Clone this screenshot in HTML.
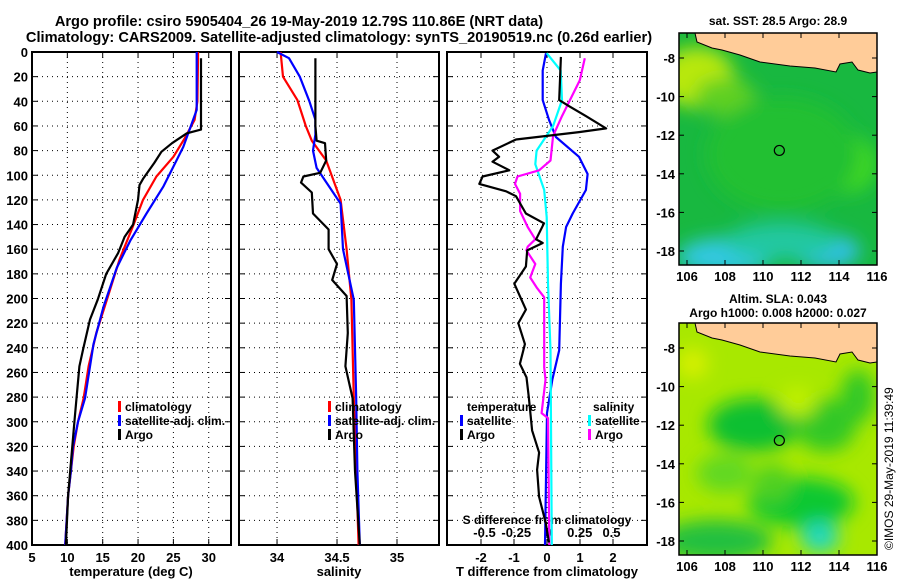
<!DOCTYPE html>
<html><head><meta charset="utf-8">
<style>
html,body{margin:0;padding:0;background:#fff;}
svg{display:block;font-family:"Liberation Sans",sans-serif;font-weight:bold;}
</style></head>
<body>
<svg id="chart" width="900" height="580" viewBox="0 0 900 580" xmlns="http://www.w3.org/2000/svg">
<text x="299" y="26" font-size="14.6" text-anchor="middle">Argo profile: csiro 5905404_26 19-May-2019 12.79S 110.86E (NRT data)</text>
<text x="339" y="42" font-size="14.6" text-anchor="middle">Climatology: CARS2009. Satellite-adjusted climatology: synTS_20190519.nc (0.26d earlier)</text>
<g id="plots"></g>
<g id="maps"></g>
<text transform="translate(893,550) rotate(-90)" font-size="12" font-weight="normal">©IMOS 29-May-2019 11:39:49</text>
</svg>
<script>
// ---- data ----
const depthTicks = [0,20,40,60,80,100,120,140,160,180,200,220,240,260,280,300,320,340,360,380,400];
const tempTicks = [5,10,15,20,25,30];
const salTicks = [34,34.5,35];
const tdiffTicks = [-2,-1,0,1,2];
const sdiffTicks = [-0.5,-0.25,0,0.25,0.5];
const sdiffTickLabels = ["-0.5","-0.25","0","0.25","0.5"];

const climTempDepth = [0,40,55,70,85,101,120,141,168,201,228,255,281,300,320,340,360,400];
const climTemp =      [28.5,28.4,28.0,26.6,25.0,22.6,20.7,19.3,17.4,15.6,14.1,13.0,12.3,11.5,10.9,10.5,10.1,9.7];
const satTempDepth = [0,47,77,93,109,131,153,175,207,237,281,300,320,340,360,400];
const satTemp =      [28.3,28.3,26.4,25.0,23.6,21.2,18.9,17.0,15.1,13.7,12.5,11.5,10.8,10.5,10.1,9.7];
const argoTempDepth = [5,60,63,66,74,81,90,103,108,120,140,150,163,180,201,217,242,255,281,300,340,360,400];
const argoTemp =      [28.9,28.9,28.9,26.9,24.8,23.3,22.3,20.7,20.2,20.0,19.3,18.1,17.2,15.5,14.3,13.2,12.2,11.7,11.3,11.0,10.4,10.1,9.8];

const climSalDepth = [0,20,39,60,72,88,120,160,201,281,340,400];
const climSal =      [34.03,34.05,34.17,34.24,34.29,34.41,34.53,34.58,34.62,34.64,34.66,34.68];
const satSalDepth = [0,5,20,40,55,67,80,94,123,160,201,281,340,400];
const satSal =      [34.0,34.1,34.19,34.27,34.32,34.32,34.3,34.33,34.53,34.55,34.64,34.66,34.67,34.69];
const argoSalDepth = [5,60,72,74,88,98,101,106,114,131,144,160,172,185,198,228,255,281,340,400];
const argoSal =      [34.32,34.32,34.33,34.4,34.41,34.36,34.22,34.2,34.29,34.3,34.43,34.43,34.5,34.46,34.58,34.59,34.57,34.63,34.65,34.69];

const satTdiffDepth = [1,15,39,55,69,85,99,112,131,142,158,188,242,266,293,400];
const satTdiff =      [-0.03,-0.13,-0.13,0.06,0.27,0.97,1.23,1.18,0.78,0.58,0.48,0.42,0.37,0.16,0,-0.06];
const argoTdiffDepth = [4,39,44,52,62,65,71,80,85,89,96,101,107,113,117,131,139,152,155,161,174,188,209,220,237,253,264,280,307,325,339,361,382,398];
const argoTdiff =      [0.42,0.37,0.67,1.18,1.79,0.97,-0.94,-1.65,-1.45,-1.65,-1.14,-1.95,-2.05,-1.24,-0.94,-0.64,-0.09,-0.33,-0.13,-0.6,-0.64,-0.99,-0.64,-0.87,-0.67,-0.82,-0.62,-0.55,-0.45,-0.24,-0.3,-0.24,-0.04,0.06];
const satSdiffDepth = [1,15,39,60,80,91,112,134,188,242,400];
const satSdiff =      [-0.01,0.1,0.11,0.04,-0.09,-0.1,-0.03,-0.01,0,0.02,0.03];
const argoSdiffDepth = [5,23,52,68,88,96,101,107,115,129,142,152,158,161,172,183,191,199,256,266,293,297,400];
const argoSdiff =      [0.29,0.25,0.11,0.04,0.02,-0.07,-0.24,-0.26,-0.22,-0.22,-0.16,-0.1,-0.16,-0.17,-0.1,-0.14,-0.09,-0.03,-0.03,-0.02,-0.05,0,0.01];

const NS="http://www.w3.org/2000/svg";
function mk(tag,attrs,parent){const e=document.createElementNS(NS,tag);for(const k in attrs)e.setAttribute(k,attrs[k]);parent.appendChild(e);return e;}
const plots=document.getElementById('plots');
const Y0=52,Y1=545;
function yScale(d){return Y0+(d/400)*(Y1-Y0);}

function panel(name,x0,x1,vmin,vmax,ticks,labels){
  const g=mk('g',{},plots);
  
  
  const xs=v=>x0+(v-vmin)/(vmax-vmin)*(x1-x0);
  depthTicks.forEach(d=>{
    if(d>0&&d<400){const l=mk('line',{x1:x0,x2:x1,y1:yScale(d),y2:yScale(d),stroke:'#000','stroke-width':1,'stroke-dasharray':'1,4'},g);
    }
    mk('line',{x1:x0,x2:x0+6,y1:yScale(d),y2:yScale(d),stroke:'#000'},g);
    mk('line',{x1:x1-6,x2:x1,y1:yScale(d),y2:yScale(d),stroke:'#000'},g);
  });
  ticks.forEach((t,i)=>{
    const x=xs(t);
    if(x>x0+1&&x<x1-1){const l=mk('line',{x1:x,x2:x,y1:Y0,y2:Y1,stroke:'#000','stroke-dasharray':'1,4'},g);
    }
    mk('line',{x1:x,x2:x,y1:Y1-6,y2:Y1,stroke:'#000'},g);
    mk('line',{x1:x,x2:x,y1:Y0,y2:Y0+6,stroke:'#000'},g);
    const tx=mk('text',{x:x,y:Y1+17,'font-size':13,'text-anchor':'middle'},g);
    tx.textContent=labels?labels[i]:String(t);
    
  });
  const r=mk('rect',{x:x0,y:Y0,width:x1-x0,height:Y1-Y0,fill:'none',stroke:'#000','stroke-width':2},g);
  
  return {g,xs};
}
function line(p,vals,depths,color,name){
  const pts=vals.map((v,i)=>p.xs(v).toFixed(1)+','+yScale(depths[i]).toFixed(1)).join(' ');
  const pl=mk('polyline',{points:pts,fill:'none',stroke:color,'stroke-width':2.2,'stroke-linejoin':'round'},p.g);
  
  
}
function txt(g,x,y,s,size,anchor,name){
  const t=mk('text',{x:x,y:y,'font-size':size,'text-anchor':anchor||'start'},g);
  t.textContent=s;
  
  
  return t;
}
function legend(g,x,y,color,label){
  const s=mk('rect',{x:x,y:y-10,width:3,height:11,fill:color},g);
  
  txt(g,x+7,y,label,12,'start','legend-entry');
}

depthTicks.forEach(d=>{txt(plots,28,yScale(d)+5,String(d),13,'end','y-tick-label');});

// panel 1
const p1=panel('temperature-panel',32,231,5,33.15,tempTicks);
line(p1,climTemp,climTempDepth,'#ff0000','climatology-temp-line');
line(p1,satTemp,satTempDepth,'#0000ff','satellite-temp-line');
line(p1,argoTemp,argoTempDepth,'#000000','argo-temp-line');
txt(p1.g,131,576,'temperature (deg C)',13,'middle','x-axis-title');
legend(p1.g,118,411,'#ff0000','climatology');
legend(p1.g,118,425,'#0000ff','satellite-adj. clim.');
legend(p1.g,118,439,'#000000','Argo');

// panel 2
const p2=panel('salinity-panel',239,439,33.683,35.35,salTicks);
line(p2,climSal,climSalDepth,'#ff0000','climatology-sal-line');
line(p2,satSal,satSalDepth,'#0000ff','satellite-sal-line');
line(p2,argoSal,argoSalDepth,'#000000','argo-sal-line');
txt(p2.g,339,576,'salinity',13,'middle','x-axis-title');
legend(p2.g,328,411,'#ff0000','climatology');
legend(p2.g,328,425,'#0000ff','satellite-adj. clim.');
legend(p2.g,328,439,'#000000','Argo');

// panel 3
const p3=panel('difference-panel',447,647,-3.03,3.03,tdiffTicks);
const sScale=v=>548+v*127;
sdiffTicks.forEach((t,i)=>{txt(p3.g,sScale(t),537,sdiffTickLabels[i],13,'middle','s-diff-tick-label');});
txt(p3.g,547,524,'S difference from climatology',12,'middle','s-axis-title');
const pS={g:p3.g,xs:v=>sScale(v)};
line(p3,satTdiff,satTdiffDepth,'#0000ff','satellite-tdiff-line');
line(pS,satSdiff,satSdiffDepth,'#00ffff','satellite-sdiff-line');
line(pS,argoSdiff,argoSdiffDepth,'#ff00ff','argo-sdiff-line');
line(p3,argoTdiff,argoTdiffDepth,'#000000','argo-tdiff-line');
txt(p3.g,547,576,'T difference from climatology',13,'middle','x-axis-title');
txt(p3.g,467,411,'temperature',12,'start','legend-title-temp');
txt(p3.g,593,411,'salinity',12,'start','legend-title-sal');
legend(p3.g,460,425,'#0000ff','satellite');
legend(p3.g,460,439,'#000000','Argo');
legend(p3.g,588,425,'#00ffff','satellite');
legend(p3.g,588,439,'#ff00ff','Argo');

// ---- maps ----
const maps=document.getElementById('maps');
const mapLonTicks=[106,108,110,112,114,116];
const mapLatTicks=[-8,-10,-12,-14,-16,-18];
function drawMap(name,top,bottom,latTop,title1,title2,blobs,base){
  const g=mk('g',{},maps);
  
  
  const x0=679,x1=877;
  const lx=v=>687+(v-106)*19;
  const ly=v=>latTop+(-8-v)*19.3;
  const cid=name+'-clip';
  const cp=mk('clipPath',{id:cid},g);mk('rect',{x:x0,y:top,width:x1-x0,height:bottom-top},cp);
  const inner=mk('g',{'clip-path':'url(#'+cid+')'},g);
  const f=mk('filter',{id:name+'-blur',x:'-50%',y:'-50%',width:'200%',height:'200%'},g);
  mk('feGaussianBlur',{stdDeviation:9},f);
  mk('rect',{x:x0,y:top,width:x1-x0,height:bottom-top,fill:base},inner);
  const bg=mk('g',{filter:'url(#'+name+'-blur)'},inner);
  blobs.forEach(b=>mk('ellipse',{cx:lx(b[0]),cy:ly(b[1]),rx:b[2]*19,ry:b[3]*19,fill:b[4]},bg));
  const o=top-33;
  const land=mk('polygon',{points:[[683,top],[695,top],[697,42+o],[712,48+o],[722,50+o],[740,55+o],[760,62+o],[790,66+o],[815,68+o],[836,72+o],[840,64+o],[852,62+o],[858,70+o],[870,73+o],[877,72+o],[877,top]].map(p=>p.join(',')).join(' '),fill:'#ffcc99',stroke:'#000','stroke-width':1},inner);
  
  const c=mk('circle',{cx:lx(110.86),cy:ly(-12.79),r:5,fill:'none',stroke:'#000','stroke-width':1.2},g);
  
  mk('rect',{x:x0,y:top,width:x1-x0,height:bottom-top,fill:'none',stroke:'#000','stroke-width':1.5},g);
  mapLonTicks.forEach(v=>{mk('line',{x1:lx(v),x2:lx(v),y1:bottom,y2:bottom-5,stroke:'#000'},g);mk('line',{x1:lx(v),x2:lx(v),y1:top,y2:top+5,stroke:'#000'},g);txt(g,lx(v),bottom+16,String(v),13,'middle','map-lon-label');});
  mapLatTicks.forEach(v=>{mk('line',{x1:x0,x2:x0+5,y1:ly(v),y2:ly(v),stroke:'#000'},g);mk('line',{x1:x1,x2:x1-5,y1:ly(v),y2:ly(v),stroke:'#000'},g);txt(g,x0-4,ly(v)+5,String(v),13,'end','map-lat-label');});
  if(title2){txt(g,778,top-20,title1,12,'middle','map-title');txt(g,778,top-6,title2,12,'middle','map-subtitle');}
  else txt(g,778,top-8,title1,12,'middle','map-title');
}
drawMap('sst-map',33,265,58,'sat. SST: 28.5 Argo: 28.9',null,[
  [106.5,-9,2,1.6,'#b8e810'],[108,-10,1.6,1,'#60d020'],[114.5,-13.5,1.5,1.5,'#40d820'],
  [108,-18.3,2.5,1,'#30c8e0'],[113.3,-18,1.8,0.9,'#30c0e8'],[111,-17.5,3,1,'#20c8a0'],
  [111,-13,4,3,'#20c030']],'#18b840');
drawMap('sla-map',323,555,348,'Altim. SLA: 0.043','Argo h1000: 0.008 h2000: 0.027',[
  [109.5,-12,2.4,1.4,'#10c030'],[108,-14.5,1.5,1,'#60d820'],[113.3,-12,1.6,1.4,'#30c828'],
  [112,-16,2.8,1.3,'#10c830'],[113,-17.8,1,0.8,'#20d8c0'],[107.5,-18,3,1.1,'#20c040'],
  [115,-10.5,0.9,1.4,'#30c828'],[106.3,-8.8,0.8,0.8,'#d8f000'],[111.8,-10.8,1,0.8,'#c0f000'],
  [110.5,-15,1,1,'#50d020']],'#a8e800');
</script>
</body></html>
